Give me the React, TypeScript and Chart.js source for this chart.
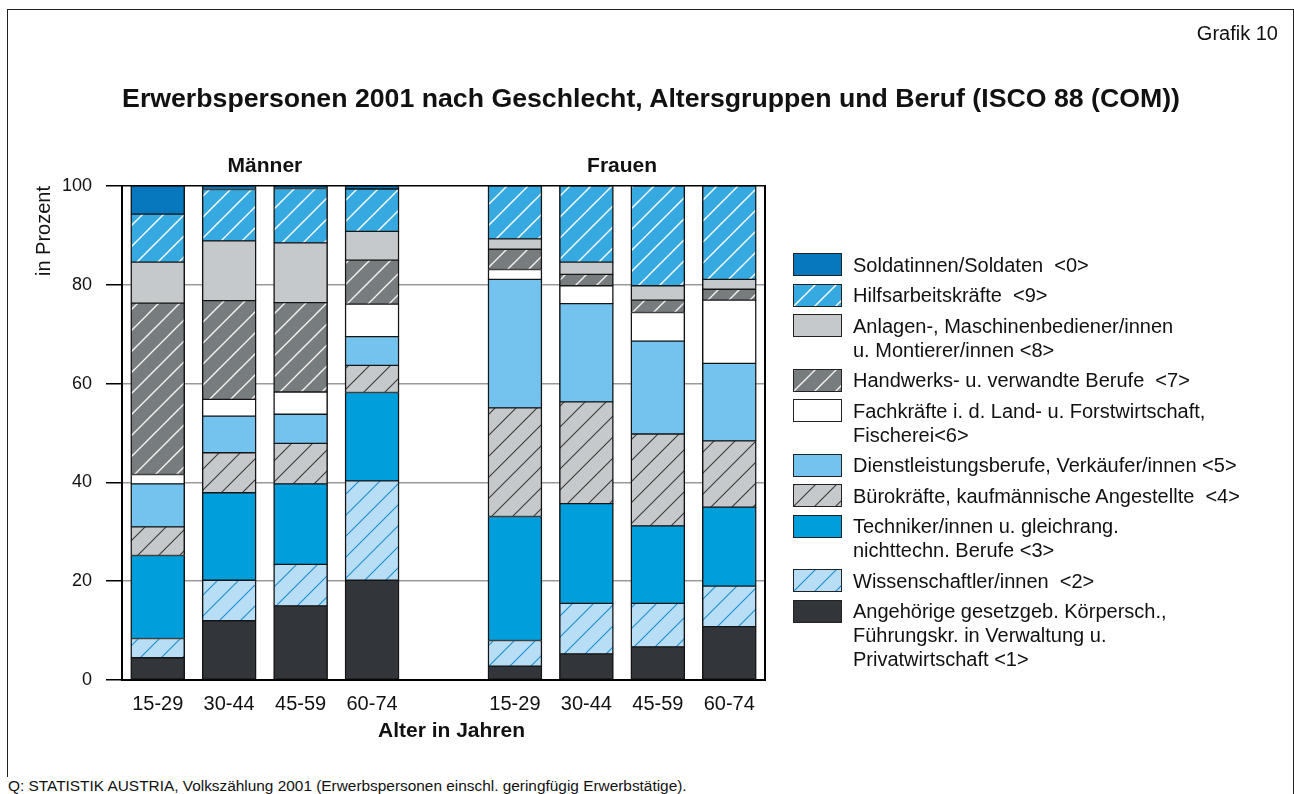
import React, { useEffect, useRef, useMemo } from 'react';
import { Chart, registerables } from 'chart.js';

Chart.register(...registerables);

const FONT = "'Liberation Sans', Arial, Helvetica, sans-serif";
if (typeof document !== 'undefined') document.body.style.margin = '0';

// ---------- data ----------
const categories = ['15-29', '30-44', '45-59', '60-74', '', '15-29', '30-44', '45-59', '60-74'];
const groupLabels = ['Männer', 'Frauen'];
const xTitle = 'Alter in Jahren';
const yTicks = [0, 20, 40, 60, 80, 100];

const angehoerige = [4.5, 12.0, 15.0, 20.2, null, 2.8, 5.3, 6.7, 10.8];
const wissenschaftler = [3.9, 8.2, 8.4, 20.1, null, 5.2, 10.2, 8.8, 8.2];
const techniker = [16.8, 17.7, 16.3, 17.9, null, 25.1, 20.2, 15.7, 16.0];
const buerokraefte = [5.8, 8.1, 8.2, 5.5, null, 22.0, 20.6, 18.6, 13.4];
const dienstleistung = [8.7, 7.4, 5.9, 5.8, null, 26.0, 19.9, 18.8, 15.7];
const fachkraefte = [1.9, 3.4, 4.5, 6.6, null, 2.0, 3.6, 5.8, 12.8];
const handwerk = [34.7, 20.0, 18.1, 8.9, null, 4.1, 2.3, 2.5, 2.2];
const anlagen = [8.3, 12.1, 12.1, 5.8, null, 2.1, 2.5, 2.9, 2.0];
const hilfsarbeit = [9.7, 10.4, 11.0, 8.6, null, 10.7, 15.4, 20.2, 18.9];
const soldaten = [5.7, 0.7, 0.5, 0.6, null, null, null, null, null];

const seriesNames = [
  'Angehörige gesetzgeb. Körpersch.,\nFührungskr. in Verwaltung u.\nPrivatwirtschaft <1>',
  'Wissenschaftler/innen  <2>',
  'Techniker/innen u. gleichrang.\nnichttechn. Berufe <3>',
  'Bürokräfte, kaufmännische Angestellte  <4>',
  'Dienstleistungsberufe, Verkäufer/innen <5>',
  'Fachkräfte i. d. Land- u. Forstwirtschaft,\nFischerei<6>',
  'Handwerks- u. verwandte Berufe  <7>',
  'Anlagen-, Maschinenbediener/innen\nu. Montierer/innen <8>',
  'Hilfsarbeitskräfte  <9>',
  'Soldatinnen/Soldaten  <0>',
];
const seriesValues = [
  angehoerige, wissenschaftler, techniker, buerokraefte, dienstleistung,
  fachkraefte, handwerk, anlagen, hilfsarbeit, soldaten,
];

// ---------- styles ----------
const seriesStyles: { bg: string; hatch: string | null; lw: number }[] = [
  { bg: '#323539', hatch: null, lw: 0 },
  { bg: '#B8DEF5', hatch: '#1A8CD0', lw: 1.1 },
  { bg: '#009EDA', hatch: null, lw: 0 },
  { bg: '#C5C9CB', hatch: '#3A3A3A', lw: 1.1 },
  { bg: '#74C3EE', hatch: null, lw: 0 },
  { bg: '#FFFFFF', hatch: null, lw: 0 },
  { bg: '#777C7F', hatch: '#F4F4F4', lw: 1.4 },
  { bg: '#C5C9CB', hatch: null, lw: 0 },
  { bg: '#36A9E0', hatch: '#FFFFFF', lw: 1.4 },
  { bg: '#0878BE', hatch: null, lw: 0 },
];

function makeTile(bg: string, line: string | null, lw: number): HTMLCanvasElement {
  const s = 21;
  const c = document.createElement('canvas');
  c.width = s;
  c.height = s;
  const g = c.getContext('2d')!;
  g.fillStyle = bg;
  g.fillRect(0, 0, s, s);
  if (line) {
    g.strokeStyle = line;
    g.lineWidth = lw;
    g.beginPath();
    for (const o of [-s, 0, s]) {
      g.moveTo(o - 1, s + 1);
      g.lineTo(o + s + 1, -1);
    }
    g.stroke();
  }
  return c;
}

let tileCache: HTMLCanvasElement[] | null = null;
function getTiles() {
  if (!tileCache) tileCache = seriesStyles.map((s) => makeTile(s.bg, s.hatch, s.lw));
  return tileCache;
}

const decorPlugin = {
  id: 'decor',
  afterDatasetsDraw(chart: any) {
    const { ctx, chartArea: a } = chart;
    const x = chart.scales.x;
    ctx.save();
    ctx.strokeStyle = '#000';
    ctx.lineWidth = 2;
    ctx.beginPath();
    ctx.moveTo(a.right, a.top - 1);
    ctx.lineTo(a.right, a.bottom + 1);
    ctx.stroke();
    ctx.font = `bold 21px ${FONT}`;
    ctx.fillStyle = '#111';
    ctx.textAlign = 'center';
    ctx.textBaseline = 'middle';
    ctx.fillText(groupLabels[0], (x.getPixelForTick(0) + x.getPixelForTick(3)) / 2, a.top - 20);
    ctx.fillText(groupLabels[1], (x.getPixelForTick(5) + x.getPixelForTick(8)) / 2, a.top - 20);
    ctx.fillText(xTitle, (a.left + a.right) / 2 + 8, a.bottom + 51);
    ctx.restore();
  },
};

export default function App() {
  const canvasRef = useRef<HTMLCanvasElement | null>(null);
  const tiles = useMemo(() => getTiles(), []);
  const tileUrls = useMemo(() => tiles.map((t) => t.toDataURL()), [tiles]);

  useEffect(() => {
    const canvas = canvasRef.current!;
    const ctx = canvas.getContext('2d')!;
    Chart.defaults.font.family = FONT;
    const datasets = seriesValues.map((vals, i) => ({
      label: seriesNames[i],
      data: vals,
      backgroundColor: seriesStyles[i].hatch ? ctx.createPattern(tiles[i], 'repeat') : seriesStyles[i].bg,
      borderColor: '#151515',
      borderWidth: { top: 1, bottom: 1, left: 1.5, right: 1.5 },
      borderSkipped: false,
      barThickness: 54,
    }));
    const chart = new Chart(canvas, {
      type: 'bar',
      data: { labels: categories, datasets: datasets as any },
      plugins: [decorPlugin],
      options: {
        responsive: false,
        animation: false,
        layout: { padding: { left: 30, top: 186, right: 529, bottom: 50 } },
        plugins: { legend: { display: false }, tooltip: { enabled: false }, title: { display: false } },
        scales: {
          x: {
            type: 'category',
            stacked: true,
            offset: true,
            grid: { display: false, drawTicks: false },
            border: { display: true, color: '#000', width: 2 },
            ticks: { color: '#111', font: { size: 20 }, padding: 12, maxRotation: 0, autoSkip: false },
            afterFit: (s: any) => { s.height = 64; },
          },
          y: {
            stacked: true,
            min: 0,
            max: 100,
            afterBuildTicks: (s: any) => { s.ticks = yTicks.map((v) => ({ value: v })); },
            grid: {
              color: (c: any) => (c.tick && (c.tick.value === 100 || c.tick.value === 0) ? '#000' : '#9A9A9A'),
              lineWidth: 1.5,
              tickColor: '#000',
              tickLength: 16,
              drawTicks: true,
            },
            border: { display: true, color: '#000', width: 2 },
            ticks: { color: '#111', font: { size: 18 }, padding: 14 },
            title: {
              display: true,
              text: 'in Prozent',
              align: 'end',
              color: '#111',
              font: { size: 20 },
              padding: { top: 2, bottom: 0 },
            },
            afterFit: (s: any) => { s.width = 92; },
          },
        },
      } as any,
    });
    return () => chart.destroy();
  }, [tiles]);

  const legendOrder = [9, 8, 7, 6, 5, 4, 3, 2, 1, 0];

  return (
    <div style={{ position: 'relative', width: 1294, height: 794, overflow: 'hidden', background: '#fff', fontFamily: FONT, color: '#111' }}>
      <div style={{ position: 'absolute', left: 7, top: 9, width: 1287, height: 900, border: '1.5px solid #222', boxSizing: 'border-box' }} />
      <canvas ref={canvasRef} width={1294} height={794} style={{ position: 'absolute', left: 0, top: 0, width: 1294, height: 794 }} />
      <div style={{ position: 'absolute', right: 16, top: 21, fontSize: 20, lineHeight: '24px' }}>Grafik 10</div>
      <div style={{ position: 'absolute', left: 0, width: 1302, top: 83, textAlign: 'center', fontSize: 26.7, lineHeight: '30px', fontWeight: 'bold' }}>
        Erwerbspersonen 2001 nach Geschlecht, Altersgruppen und Beruf (ISCO 88 (COM))
      </div>
      <div style={{ position: 'absolute', left: 793, top: 252.5 }}>
        {legendOrder.map((i) => (
          <div key={i} style={{ display: 'flex', alignItems: 'flex-start', marginBottom: 6.5 }}>
            <div
              style={{
                width: 49,
                height: 23,
                marginTop: 0.5,
                flexShrink: 0,
                boxSizing: 'border-box',
                border: '1.5px solid #222',
                backgroundColor: seriesStyles[i].bg,
                backgroundImage: seriesStyles[i].hatch ? `url(${tileUrls[i]})` : 'none',
                backgroundRepeat: 'repeat',
              }}
            />
            <div style={{ marginLeft: 11, fontSize: 20, lineHeight: '24px', whiteSpace: 'pre' }}>{seriesNames[i]}</div>
          </div>
        ))}
      </div>
      <div style={{ position: 'absolute', left: 7, top: 777, paddingLeft: 1, fontSize: 15.4, lineHeight: '18px', background: '#fff', whiteSpace: 'nowrap' }}>
        Q: STATISTIK AUSTRIA, Volkszählung 2001 (Erwerbspersonen einschl. geringfügig Erwerbstätige).
      </div>
    </div>
  );
}
